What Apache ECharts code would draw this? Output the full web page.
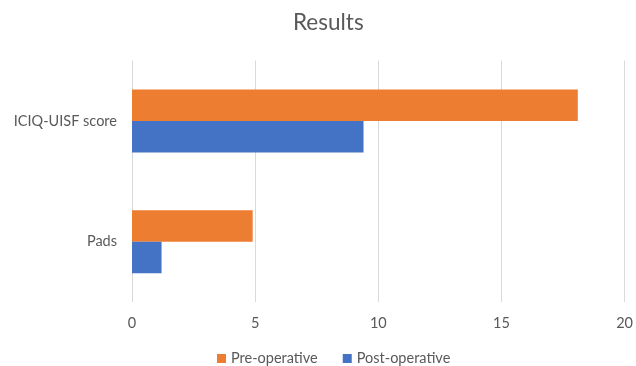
<!DOCTYPE html>
<html>
<head>
<meta charset="utf-8">
<script src="https://cdn.jsdelivr.net/npm/echarts@6/dist/echarts.min.js"></script>
<style>html,body{margin:0;padding:0;background:#fff}#c{width:636px;height:366px}</style>
</head>
<body>
<div id="c"></div>
<script>
const categories = ["Pads", "ICIQ-UISF score"];
const preOperative = [4.9, 18.1];
const postOperative = [1.2, 9.4];
const xTicks = [0, 5, 10, 15, 20];

const chart = echarts.init(document.getElementById('c'), null, {renderer: 'canvas'});
const font = 'Lato, "Open Sans", sans-serif';
chart.setOption({
  animation: false,
  title: {
    text: 'Results', left: 293, top: 11, padding: 0,
    textStyle: {fontFamily: font, fontSize: 22.5, fontWeight: 'normal', color: '#595959'}
  },
  legend: {
    top: 351, left: 217, padding: 0, itemWidth: 9, itemHeight: 9, itemGap: 25,
    icon: 'rect',
    data: ['Pre-operative', 'Post-operative'],
    textStyle: {fontFamily: font, fontSize: 14.5, color: '#595959'}
  },
  grid: {left: 132, right: 9, top: 60.6, bottom: 64},
  xAxis: {
    type: 'value', min: xTicks[0], max: xTicks[xTicks.length - 1], interval: 5,
    axisLine: {show: false}, axisTick: {show: false},
    splitLine: {lineStyle: {color: '#d9d9d9', width: 1}},
    axisLabel: {fontFamily: font, fontSize: 14.5, color: '#595959', margin: 14}
  },
  yAxis: {
    type: 'category', data: categories,
    axisLine: {show: false}, axisTick: {show: false},
    axisLabel: {fontFamily: font, fontSize: 14.5, color: '#595959', margin: 15}
  },
  series: [
    {name: 'Pre-operative', type: 'bar', data: preOperative, barWidth: 31.5, barGap: '0%',
     itemStyle: {color: '#ED7D31'}},
    {name: 'Post-operative', type: 'bar', data: postOperative, barWidth: 31.5, barGap: '0%',
     itemStyle: {color: '#4472C4'}}
  ]
});
</script>
</body>
</html>
